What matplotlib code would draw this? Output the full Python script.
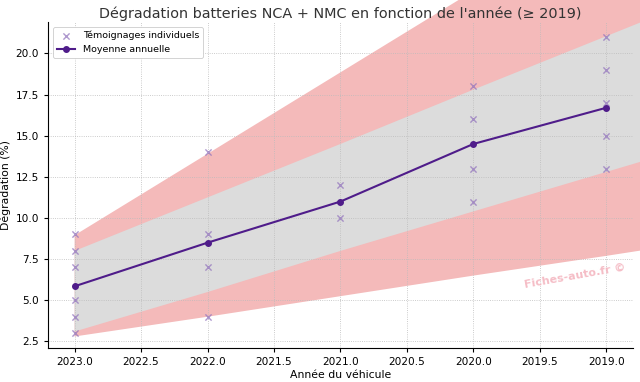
import matplotlib
matplotlib.use("Agg")
import matplotlib.pyplot as plt

# individual reports (year, degradation %)
pts_years = [2023, 2023, 2023, 2023, 2023, 2023,
             2022, 2022, 2022, 2022,
             2021, 2021,
             2020, 2020, 2020, 2020,
             2019, 2019, 2019, 2019, 2019]
pts_values = [3, 4, 5, 7, 8, 9,
              4, 7, 9, 14,
              10, 12,
              11, 13, 16, 18,
              13, 15, 17, 19, 21]

# yearly mean
years = [2023, 2022, 2021, 2020, 2019]
mean_values = [5.85, 8.5, 11.0, 14.5, 16.7]

# bands (drawn a bit past 2019)
band_years = [2023, 2022, 2021, 2020, 2019, 2018]
outer_low = [2.8, 4.0, 5.25, 6.5, 7.7, 8.95]
outer_high = [8.95, 13.9, 18.85, 23.8, 28.75, 33.7]
inner_low = [3.1, 5.5, 8.0, 10.4, 12.8, 15.2]
inner_high = [8.0, 11.25, 14.5, 17.8, 21.05, 24.3]

fig = plt.figure(figsize=(6.4, 3.82), dpi=100)
ax = fig.add_axes([0.075, 0.089, 0.914, 0.853])

ax.fill_between(band_years, outer_low, outer_high, color="#F4BABA", lw=0, clip_on=False, zorder=0.5)
ax.fill_between(band_years, inner_low, inner_high, color="#DCDCDC", lw=0, clip_on=False, zorder=0.6)

ax.scatter(pts_years, pts_values, marker="x", color="#9577BE", alpha=0.75, s=20, lw=1,
           label="Témoignages individuels", zorder=3)
ax.plot(years, mean_values, color="#4F1C8A", lw=1.5, marker="o", ms=4,
        label="Moyenne annuelle", zorder=4)

ax.set_xlim(2023.2, 2018.8)
ax.set_ylim(2.1, 21.9)
ax.set_yticks([2.5, 5.0, 7.5, 10.0, 12.5, 15.0, 17.5, 20.0])

ax.grid(True, ls=":", lw=0.6, color="#BBBBBB")
for s in ["top", "right"]:
    ax.spines[s].set_visible(False)
ax.tick_params(labelsize=7.6, length=3)

ax.set_title("Dégradation batteries NCA + NMC en fonction de l'année (≥ 2019)",
             fontsize=10.4, color="#333333", pad=3)
ax.set_xlabel("Année du véhicule", fontsize=7.8, labelpad=2)
ax.set_ylabel("Dégradation (%)", fontsize=7.8, labelpad=3)

leg = ax.legend(loc="upper left", fontsize=6.8, frameon=True, framealpha=1,
                edgecolor="#CCCCCC", borderpad=0.4, handlelength=2)
leg.get_frame().set_linewidth(0.6)

ax.text(0.9, 0.22, "Fiches-auto.fr ©", transform=ax.transAxes, fontsize=8,
        fontweight="bold", color="#F4B6C0", rotation=10, ha="center", va="center",
        alpha=0.9)

fig.savefig("out.png", dpi=100)
